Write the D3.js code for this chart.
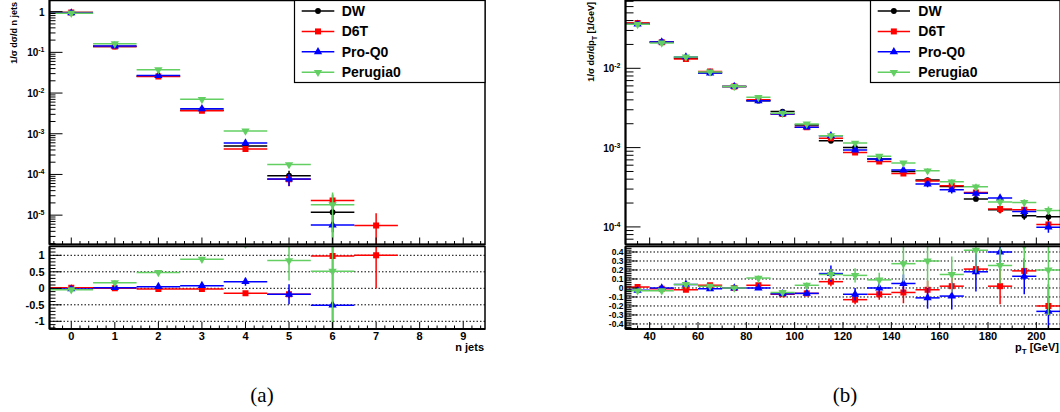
<!DOCTYPE html>
<html><head><meta charset="utf-8">
<script src="https://cdn.jsdelivr.net/npm/d3@7"></script>
<style>
body{margin:0;background:#fff}
svg{display:block}
text{font-family:"Liberation Sans",Arial,Helvetica,sans-serif;font-weight:bold;fill:#000}
</style>
</head><body>
<svg id="c" width="1060" height="412"></svg>
<script>
// ---------- DATA: panel (a) n jets ----------
const nJets = [0, 1, 2, 3, 4, 5, 6, 7];
const dwN   = [0.95, 0.140, 0.0259, 0.0038, 0.00050, 9.3e-5, 1.18e-5, null];
const d6tN  = [0.96, 0.139, 0.0255, 0.0037, 0.00042, 7.6e-5, 2.3e-5, 5.6e-6];
const proN  = [0.93, 0.143, 0.0270, 0.0041, 0.00059, 7.7e-5, 5.7e-6, null];
const perN  = [0.92, 0.163, 0.0376, 0.0070, 0.00117, 1.75e-4, 1.8e-5, null];
const dwErrN  = [0.01, 0.002, 0.0004, 0.0001, 0.00004, 3.0e-5, 0.8e-5, null];
const d6tErrN = [0.01, 0.002, 0.0004, 0.0001, 0.00004, 2.5e-5, 0.9e-5, 5.5e-6];
const proErrN = [0.01, 0.002, 0.0004, 0.0001, 0.00005, 2.5e-5, 5.6e-6, null];
const perErrN = [0.01, 0.002, 0.0005, 0.0002, 0.00008, 2.0e-5, 1.8e-5, null];
// ratios (X - DW)/DW
const d6tRN = [0.02, 0.00, -0.02, -0.02, -0.15, -0.18, 0.98, 1.00];
const proRN = [-0.02, 0.02, 0.05, 0.08, 0.20, -0.18, -0.51, null];
const perRN = [-0.04, 0.17, 0.48, 0.88, 1.34, 0.84, 0.52, null];
const d6tRErrN = [0.01, 0.01, 0.01, 0.01, 0.06, 0.12, 0.06, 1.00];
const proRErrN = [0.01, 0.01, 0.01, 0.01, 0.12, 0.30, 2.00, null];
const perRErrN = [0.01, 0.07, 0.02, 0.03, 0.10, 0.60, 2.00, null];
const ratioTicksN = [-1, -0.5, 0, 0.5, 1];
const ratioLabelsN = ["-1", "-0.5", "0", "0.5", "1"];
const xTicksN = [0, 1, 2, 3, 4, 5, 6, 7, 8, 9];

// ---------- DATA: panel (b) pT ----------
const ptBins = [35, 45, 55, 65, 75, 85, 95, 105, 115, 125, 135, 145, 155, 165, 175, 185, 195, 205];
const dwPt  = [0.0369, 0.0215, 0.0134, 0.0088, 0.0059, 0.0039, 0.00285, 0.00193, 0.00122, 0.00100, 0.00072, 0.00050, 0.00039, 0.000323, 0.000225, 0.000165, 0.000138, 0.000134];
const d6tPt = [0.0372, 0.0213, 0.0131, 0.0091, 0.0059, 0.0040, 0.00265, 0.00181, 0.00131, 0.00087, 0.00067, 0.00047, 0.00038, 0.00033, 0.000272, 0.000168, 0.000164, 0.000107];
const proPt = [0.0360, 0.0215, 0.0139, 0.0087, 0.0059, 0.0039, 0.00266, 0.00181, 0.00141, 0.00093, 0.00072, 0.00052, 0.000347, 0.000294, 0.000265, 0.000231, 0.000156, 0.0000992];
const perPt = [0.0358, 0.0209, 0.0139, 0.0090, 0.0059, 0.0043, 0.00271, 0.00199, 0.00141, 0.00114, 0.00078, 0.00064, 0.00051, 0.00037, 0.00032, 0.000206, 0.000203, 0.000161];
const dwErrPt  = [0.0003, 0.0002, 0.0001, 0.0001, 0.00006, 0.00005, 0.00004, 0.00003, 0.00003, 0.00003, 0.00003, 0.00002, 0.00002, 0.00002, 0.000015, 0.000015, 0.000015, 0.000015];
const d6tErrPt = [0.0003, 0.0002, 0.0001, 0.0001, 0.00006, 0.00005, 0.00004, 0.00003, 0.00003, 0.00003, 0.00003, 0.00003, 0.00003, 0.00002, 0.00002, 0.00002, 0.000015, 0.000012];
const proErrPt = [0.0003, 0.0002, 0.0001, 0.0001, 0.00006, 0.00005, 0.00004, 0.00003, 0.00004, 0.00003, 0.00003, 0.00003, 0.00003, 0.00003, 0.00003, 0.00002, 0.00002, 0.000015];
const perErrPt = [0.0003, 0.0002, 0.0001, 0.0001, 0.00006, 0.00005, 0.00004, 0.00003, 0.00003, 0.00003, 0.00003, 0.00004, 0.00004, 0.00003, 0.00003, 0.00002, 0.00002, 0.00002];
const d6tRPt = [0.01, -0.01, -0.02, 0.03, 0.00, 0.03, -0.07, -0.06, 0.07, -0.13, -0.07, -0.05, -0.02, 0.02, 0.21, 0.02, 0.19, -0.20];
const proRPt = [-0.025, 0.00, 0.04, -0.01, 0.00, 0.00, -0.065, -0.06, 0.16, -0.07, 0.00, 0.05, -0.11, -0.09, 0.18, 0.40, 0.13, -0.26];
const perRPt = [-0.03, -0.03, 0.04, 0.02, 0.00, 0.11, -0.05, 0.03, 0.15, 0.14, 0.09, 0.27, 0.30, 0.15, 0.42, 0.25, 0.47, 0.20];
const d6tRErrPt = [0.01, 0.01, 0.01, 0.015, 0.015, 0.02, 0.02, 0.03, 0.05, 0.05, 0.06, 0.12, 0.10, 0.10, 0.06, 0.20, 0.10, 0.10];
const proRErrPt = [0.01, 0.01, 0.01, 0.015, 0.015, 0.02, 0.02, 0.03, 0.09, 0.07, 0.08, 0.10, 0.12, 0.15, 0.22, 0.20, 0.20, 0.30];
const perRErrPt = [0.01, 0.01, 0.015, 0.015, 0.015, 0.03, 0.02, 0.03, 0.06, 0.08, 0.08, 0.20, 0.30, 0.20, 0.25, 0.20, 0.25, 0.50];
const ratioTicksPt = [-0.4, -0.3, -0.2, -0.1, 0, 0.1, 0.2, 0.3, 0.4];
const ratioLabelsPt = ["-0.4", "-0.3", "-0.2", "-0.1", "0", "0.1", "0.2", "0.3", "0.4"];
const xTicksPt = [40, 60, 80, 100, 120, 140, 160, 180, 200];

const seriesNames = ["DW", "D6T", "Pro-Q0", "Perugia0"];
const seriesColors = ["#000000", "#ff0000", "#0000ff", "#63cf63"];
const seriesSymbols = ["circle", "square", "up", "down"];
const captions = ["(a)", "(b)"];

// ---------- DRAWING ----------
const svg = d3.select("#c");
const defs = svg.append("defs");
let clipId = 0;

function symbolPath(kind) {
  if (kind === "circle") return d3.symbol(d3.symbolCircle, 26)();
  if (kind === "square") return d3.symbol(d3.symbolSquare, 36)();
  return d3.symbol(d3.symbolTriangle, 30)();
}
function drawMarker(g, kind, x, y, color) {
  g.append("path").attr("d", symbolPath(kind))
    .attr("transform", `translate(${x},${y})` + (kind === "down" ? " rotate(180)" : ""))
    .attr("fill", color);
}
function addClip(x0, y0, x1, y1) {
  const id = "clip" + (clipId++);
  defs.append("clipPath").attr("id", id).append("rect")
    .attr("x", x0).attr("y", y0).attr("width", x1 - x0).attr("height", y1 - y0);
  return "url(#" + id + ")";
}
function logTicks(scale) {
  const [a, b] = scale.domain();
  const lo = Math.floor(Math.log10(a)), hi = Math.ceil(Math.log10(b));
  const out = [];
  for (let d = lo; d <= hi; d++) for (let k = 1; k <= 9; k++) {
    const v = k * Math.pow(10, d);
    if (v >= a && v <= b) out.push({ v, major: k === 1, d });
  }
  return out;
}
function drawPoints(g, xs, vals, errs, xScale, yScale, hw, color, kind, isLog) {
  const [ymin] = yScale.domain();
  xs.forEach((c, i) => {
    const v = vals[i];
    if (v === null || v === undefined) return;
    const e = errs[i] || 0;
    const y = yScale(v);
    g.append("line").attr("x1", xScale(c - hw)).attr("x2", xScale(c + hw))
      .attr("y1", y).attr("y2", y).attr("stroke", color).attr("stroke-width", 1.5);
    if (e > 0) {
      let lo = v - e;
      if (isLog && lo <= ymin) lo = ymin * 0.5;
      g.append("line").attr("x1", xScale(c)).attr("x2", xScale(c))
        .attr("y1", yScale(lo)).attr("y2", yScale(v + e)).attr("stroke", color).attr("stroke-width", 1.5);
    }
    drawMarker(g, kind, xScale(c), y, color);
  });
}

function panel(cfg) {
  const { x, yTop, yLow, xs, hw, tops, topErrs, ratios, ratioErrs } = cfg;
  const [X0, X1] = x.range();
  const topY0 = 0.5, topY1 = 244.5, lowY0 = 246.5, lowY1 = 329;

  const low = svg.append("g");
  cfg.ratioTicks.forEach(t => {
    low.append("line").attr("x1", X0).attr("x2", X1).attr("y1", yLow(t)).attr("y2", yLow(t))
      .attr("stroke", "#000").attr("stroke-width", 1).attr("stroke-dasharray", "1.5,2");
  });

  const gTop = svg.append("g").attr("clip-path", addClip(X0, topY0, X1, topY1));
  tops.forEach((vals, s) => drawPoints(gTop, xs, vals, topErrs[s], x, yTop, hw, seriesColors[s], seriesSymbols[s], true));
  const gLow = svg.append("g").attr("clip-path", addClip(X0, lowY0, X1, lowY1));
  ratios.forEach((vals, s) => drawPoints(gLow, xs, vals, ratioErrs[s], x, yLow, hw, seriesColors[s + 1], seriesSymbols[s + 1], false));

  const ax = svg.append("g");
  ax.append("rect").attr("x", X0).attr("y", topY0).attr("width", X1 - X0).attr("height", topY1 - topY0)
    .attr("fill", "none").attr("stroke", "#000").attr("stroke-width", 1.5);
  ax.append("rect").attr("x", X0).attr("y", lowY0).attr("width", X1 - X0).attr("height", lowY1 - lowY0)
    .attr("fill", "none").attr("stroke", "#000").attr("stroke-width", 1.5);
  ax.append("line").attr("x1", X0).attr("x2", X0).attr("y1", 0).attr("y2", topY1).attr("stroke", "#000").attr("stroke-width", 2);
  ax.append("line").attr("x1", X0).attr("x2", X0).attr("y1", lowY0).attr("y2", lowY1).attr("stroke", "#000").attr("stroke-width", 2);
  ax.append("line").attr("x1", X0).attr("x2", X1).attr("y1", lowY1).attr("y2", lowY1).attr("stroke", "#000").attr("stroke-width", 2);
  ax.append("line").attr("x1", X0).attr("x2", X1).attr("y1", topY1).attr("y2", topY1).attr("stroke", "#000").attr("stroke-width", 2);

  const [dx0, dx1] = x.domain();
  const minor = d3.range(Math.ceil(dx0 / cfg.xMinor) * cfg.xMinor, dx1 + 1e-9, cfg.xMinor);
  minor.forEach(v => {
    const isMaj = cfg.xTicks.some(t => Math.abs(t - v) < 1e-6);
    const L = isMaj ? 7 : 3.5;
    ax.append("line").attr("x1", x(v)).attr("x2", x(v)).attr("y1", topY1).attr("y2", topY1 - L).attr("stroke", "#000").attr("stroke-width", 1);
    ax.append("line").attr("x1", x(v)).attr("x2", x(v)).attr("y1", lowY1).attr("y2", lowY1 - L).attr("stroke", "#000").attr("stroke-width", 1);
  });
  cfg.xTicks.forEach(t => {
    ax.append("text").attr("x", x(t)).attr("y", 340).attr("text-anchor", "middle")
      .attr("font-size", 11).text(t);
  });

  logTicks(yTop).forEach(t => {
    const L = t.major ? cfg.yMajLen : cfg.yMinLen;
    ax.append("line").attr("x1", X0).attr("x2", X0 + L).attr("y1", yTop(t.v)).attr("y2", yTop(t.v))
      .attr("stroke", "#000").attr("stroke-width", 1);
    if (t.major) {
      const tx = ax.append("text").attr("x", X0 - cfg.labelGap).attr("y", yTop(t.v) + 4)
        .attr("text-anchor", "end").attr("font-size", 10);
      if (t.d === 0) tx.text("1");
      else {
        tx.append("tspan").text("10");
        tx.append("tspan").attr("font-size", 7).attr("dy", -4).text(t.d);
      }
    }
  });

  const [ly0, ly1] = yLow.domain();
  d3.range(Math.ceil(ly0 / cfg.rMinor) * cfg.rMinor, ly1 + 1e-9, cfg.rMinor).forEach(v => {
    const isMaj = cfg.ratioTicks.some(t => Math.abs(t - v) < 1e-6);
    ax.append("line").attr("x1", X0).attr("x2", X0 + (isMaj ? 12 : 6)).attr("y1", yLow(v)).attr("y2", yLow(v))
      .attr("stroke", "#000").attr("stroke-width", 1);
  });
  cfg.ratioTicks.forEach((t, i) => {
    ax.append("text").attr("x", X0 - cfg.rLabelGap).attr("y", yLow(t) + cfg.rLabelSize * 0.36).attr("text-anchor", "end")
      .attr("font-size", cfg.rLabelSize).text(cfg.ratioLabels[i]);
  });

  const yt = ax.append("text").attr("transform", `translate(${cfg.yTitleX},2) rotate(-90)`)
    .attr("text-anchor", "end").attr("font-size", 9);
  cfg.yTitle(yt);
  const xt = ax.append("text").attr("x", cfg.xTitleX).attr("y", 351).attr("text-anchor", "end").attr("font-size", 11);
  cfg.xTitle(xt);

  const lg = svg.append("g");
  lg.append("rect").attr("x", cfg.legX0).attr("y", 0.5).attr("width", cfg.legX1 - cfg.legX0).attr("height", 82)
    .attr("fill", "#fff").attr("stroke", "#000").attr("stroke-width", 1.2);
  const rowY = d3.scaleLinear().domain([0, 3]).range([11, 72.3]);
  seriesNames.forEach((name, s) => {
    const y = rowY(s);
    lg.append("line").attr("x1", cfg.legLine[0]).attr("x2", cfg.legLine[1]).attr("y1", y).attr("y2", y)
      .attr("stroke", seriesColors[s]).attr("stroke-width", 1.5);
    drawMarker(lg, seriesSymbols[s], (cfg.legLine[0] + cfg.legLine[1]) / 2, y, seriesColors[s]);
    lg.append("text").attr("x", cfg.legText).attr("y", y + 5).attr("font-size", 14).text(name);
  });

  svg.append("text").attr("x", cfg.capX).attr("y", 402).attr("text-anchor", "middle")
    .style("font-family", "'Liberation Serif','Times New Roman',serif").style("font-weight", "normal")
    .attr("font-size", 21).text(cfg.caption);
}

panel({
  x: d3.scaleLinear().domain([-0.5, 9.5]).range([49.5, 485]),
  yTop: d3.scaleLog().domain([1.9e-6, 1.88]).range([244.5, 0.5]),
  yLow: d3.scaleLinear().domain([-1.233, 1.267]).range([329, 246.5]),
  xs: nJets, hw: 0.5,
  tops: [dwN, d6tN, proN, perN], topErrs: [dwErrN, d6tErrN, proErrN, perErrN],
  ratios: [d6tRN, proRN, perRN], ratioErrs: [d6tRErrN, proRErrN, perRErrN],
  ratioTicks: ratioTicksN, ratioLabels: ratioLabelsN, rMinor: 0.1, rLabelSize: 11,
  xTicks: xTicksN, xMinor: 0.2,
  yMajLen: 13, yMinLen: 6, labelGap: 5, rLabelGap: 5,
  yTitleX: 17,
  yTitle: t => t.text("1/σ dσ/d n jets"),
  xTitleX: 484,
  xTitle: t => t.text("n jets"),
  legX0: 294.5, legX1: 485, legLine: [301.7, 334.3], legText: 341.7,
  capX: 262, caption: captions[0]
});

panel({
  x: d3.scaleLinear().domain([30, 210]).range([625.5, 1060.5]),
  yTop: d3.scaleLog().domain([6.0e-5, 0.0716]).range([244.5, 0.5]),
  yLow: d3.scaleLinear().domain([-0.456, 0.461]).range([329, 246.5]),
  xs: ptBins, hw: 5,
  tops: [dwPt, d6tPt, proPt, perPt], topErrs: [dwErrPt, d6tErrPt, proErrPt, perErrPt],
  ratios: [d6tRPt, proRPt, perRPt], ratioErrs: [d6tRErrPt, proRErrPt, perRErrPt],
  ratioTicks: ratioTicksPt, ratioLabels: ratioLabelsPt, rMinor: 0.02, rLabelSize: 8.5,
  xTicks: xTicksPt, xMinor: 5,
  yMajLen: 15, yMinLen: 8, labelGap: 5, rLabelGap: 2,
  yTitleX: 594,
  yTitle: t => { t.append("tspan").text("1/σ dσ/dp"); t.append("tspan").attr("font-size", 7).attr("dy", 3).text("T"); t.append("tspan").attr("dy", -3).text(" [1/GeV]"); },
  xTitleX: 1059,
  xTitle: t => { t.append("tspan").text("p"); t.append("tspan").attr("font-size", 8).attr("dy", 3).text("T"); t.append("tspan").attr("dy", -3).text(" [GeV]"); },
  legX0: 870.5, legX1: 1060, legLine: [877.7, 910], legText: 918.3,
  capX: 845, caption: captions[1]
});
</script>
</body></html>
